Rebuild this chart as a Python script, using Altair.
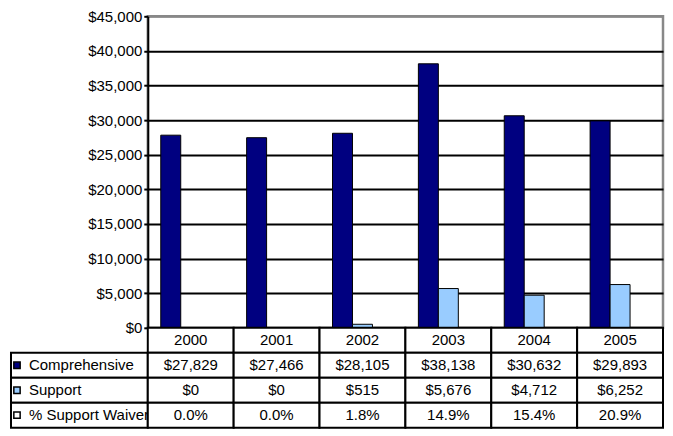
import altair as alt
import pandas as pd

# ---- data ----
years = ["2000", "2001", "2002", "2003", "2004", "2005"]
comprehensive = [27829, 27466, 28105, 38138, 30632, 29893]
support = [0, 0, 515, 5676, 4712, 6252]
waiver_pct = [0.0, 0.0, 1.8, 14.9, 15.4, 20.9]
series = ["Comprehensive", "Support", "% Support Waiver"]
series_colors = ["#000080", "#99CCFF", "#FFFFFF"]
y_ticks = list(range(0, 45001, 5000))

FONT = "Liberation Sans"
FS = 15

# ---- bar chart ----
bar_rows = (
    [{"year": y, "series": "Comprehensive", "value": v} for y, v in zip(years, comprehensive)]
    + [{"year": y, "series": "Support", "value": v} for y, v in zip(years, support)]
    + [{"year": y, "series": "% Support Waiver", "value": p / 100} for y, p in zip(years, waiver_pct)]
)
bars_df = pd.DataFrame(bar_rows)

x_scale = alt.Scale(domain=years, paddingInner=0, paddingOuter=0)
color_scale = alt.Scale(domain=series, range=series_colors)

bars = (
    alt.Chart(bars_df)
    .mark_bar(stroke="black", strokeWidth=1)
    .encode(
        x=alt.X(
            "year:N",
            scale=x_scale,
            axis=alt.Axis(labels=False, ticks=False, title=None, domain=True,
                          domainColor="black", domainWidth=2, grid=False),
        ),
        xOffset=alt.XOffset("series:N", scale=alt.Scale(domain=series, paddingInner=0, paddingOuter=0.65)),
        y=alt.Y(
            "value:Q",
            scale=alt.Scale(domain=[0, 45000], nice=False),
            axis=alt.Axis(
                values=y_ticks,
                format="$,.0f",
                title=None,
                grid=True,
                gridColor={"condition": {"test": "datum.value == 45000", "value": "#888888"}, "value": "black"},
                gridWidth=2,
                domainColor="black",
                domainWidth=2,
                tickColor="black",
                tickWidth=2,
                tickSize=4,
                labelPadding=2,
                labelFont=FONT,
                labelFontSize=FS,
                labelColor="black",
            ),
        ),
        color=alt.Color("series:N", scale=color_scale, legend=None),
    )
    .properties(
        width=516,
        height=312,
        view=alt.ViewBackground(stroke="#888888", strokeWidth=2.5, strokeOpacity=1),
    )
)

# ---- data table ----
rows = ["year", "Comprehensive", "Support", "% Support Waiver"]
cell_rows = []
for i, y in enumerate(years):
    cell_rows.append({"year": y, "row": "year", "text": y})
    cell_rows.append({"year": y, "row": "Comprehensive", "text": f"${comprehensive[i]:,}"})
    cell_rows.append({"year": y, "row": "Support", "text": f"${support[i]:,}"})
    cell_rows.append({"year": y, "row": "% Support Waiver", "text": f"{waiver_pct[i]:.1f}%"})
cells_df = pd.DataFrame(cell_rows)
labels_df = pd.DataFrame({"row": series, "series": series})

tx = alt.X("year:N", scale=x_scale, axis=None)
ty = alt.Y("row:N", scale=alt.Scale(domain=rows, paddingInner=0, paddingOuter=0), axis=None)

label_rects = alt.Chart(labels_df).mark_rect(fill="white", stroke="black", strokeWidth=2).encode(
    x=alt.value(-137), x2=alt.value(0), y=ty
)
label_text = alt.Chart(labels_df).mark_text(font=FONT, fontSize=FS, color="black", align="left").encode(
    x=alt.value(-119), y=ty, text="row:N"
)
label_keys = alt.Chart(labels_df).mark_square(size=40, stroke="black", strokeWidth=1.5, opacity=1).encode(
    x=alt.value(-131), y=ty, fill=alt.Fill("series:N", scale=color_scale, legend=None)
)
cell_rects = alt.Chart(cells_df).mark_rect(fill="white", stroke="black", strokeWidth=2).encode(x=tx, y=ty)
cell_text = alt.Chart(cells_df).mark_text(font=FONT, fontSize=FS, color="black").encode(
    x=tx, y=ty, text="text:N"
)

table = alt.layer(label_rects, label_text, label_keys, cell_rects, cell_text).properties(
    width=516,
    height=100,
    view=alt.ViewBackground(strokeOpacity=0),
)

chart = (
    alt.vconcat(bars, table, spacing=0, bounds="flush")
    .configure(padding={"left": 2, "top": -1, "right": 0, "bottom": 0}, background="white")
    .configure_view(strokeOpacity=0)
)

chart.save("out.html", embed_options={"renderer": "svg", "actions": False})
